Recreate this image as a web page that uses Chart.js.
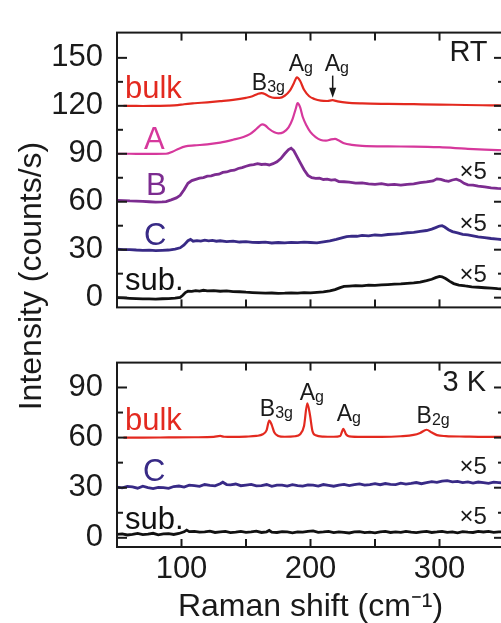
<!DOCTYPE html>
<html>
<head>
<meta charset="utf-8">
<script src="https://cdn.jsdelivr.net/npm/chart.js@4.4.1/dist/chart.umd.min.js"></script>
<style>
   html, body { margin: 0; padding: 0; background: #fff; overflow: hidden; width: 501px; height: 623px; }
   canvas { position: absolute; left: 0; }
   #grafTop { top: 0; }
   #grafBottom { top: 330px; }
   #yTitle {
      position: absolute; left: -172px; top: 260px; width: 400px; height: 32px;
      line-height: 32px; text-align: center; color: #1a1a1a;
      font: 32px 'Liberation Sans', Arial, sans-serif;
      transform: rotate(-90deg);
   }
</style>
</head>
<body>
<canvas id="grafTop" width="510" height="340"></canvas>
<canvas id="grafBottom" width="510" height="293"></canvas>
<div id="yTitle">Intensity (counts/s)</div>
<script>
// Raman shift (cm-1) / intensity (counts/s), offset traces

// --- RT panel ---
const rtBulkX = [55, 60, 70, 80, 90, 97, 102, 110, 120, 130, 140, 150, 155, 159, 162, 165, 168, 172, 176, 180, 184, 187, 189.5, 192, 195, 199, 203, 208, 213, 217, 221, 228, 240, 260, 280, 300, 320, 340, 350];
const rtBulkY = [120.0, 120.0, 119.9, 120.0, 120.1, 120.4, 121.0, 121.6, 122.2, 122.9, 123.7, 125.0, 126.0, 127.4, 128.0, 127.3, 125.8, 125.0, 125.0, 126.3, 129.5, 134.0, 137.8, 135.5, 130.0, 126.0, 124.3, 123.2, 123.0, 123.5, 122.8, 122.0, 121.5, 121.2, 121.0, 120.8, 120.5, 120.3, 120.2];

const rtAX = [50, 60, 70, 80, 88, 93, 98, 103, 110, 120, 130, 140, 148, 153, 157, 160, 162.5, 165, 168, 172, 175, 179, 183, 186, 188.5, 190, 192, 194, 197, 200, 204, 208, 212, 216, 219, 222, 226, 232, 240, 260, 280, 300, 320, 335, 350];
const rtAY = [90.0, 90.0, 89.9, 89.9, 90.0, 91.3, 93.2, 94.6, 95.2, 95.9, 97.0, 98.8, 100.5, 102.3, 104.8, 107.0, 108.4, 107.7, 105.5, 103.4, 102.8, 103.5, 106.5, 111.5, 118.0, 121.7, 119.0, 113.0, 107.5, 103.5, 100.4, 98.6, 98.2, 99.0, 99.3, 98.3, 96.6, 95.6, 95.0, 94.6, 94.5, 94.1, 93.2, 92.6, 92.2];

const rtBX = [50, 55, 60, 65, 70, 75, 80, 85, 88, 92, 96, 99, 102, 105, 108, 111, 114, 117, 120, 123, 126, 129, 132, 135, 138, 141, 144, 147, 150, 153, 156, 159, 162, 165, 168, 171, 174, 177, 180, 183, 185, 187, 189, 192, 195, 198, 201, 204, 207, 210, 213, 216, 219, 222, 226, 230, 235, 240, 245, 250, 255, 260, 265, 270, 275, 280, 285, 290, 295, 298, 301, 304, 307, 310, 313, 316, 319, 322, 326, 330, 335, 340, 345, 350];
const rtBY = [60.9, 60.7, 60.5, 60.4, 60.2, 60.0, 59.8, 59.9, 60.1, 61.2, 62.4, 64.0, 67.5, 71.5, 73.2, 74.0, 74.8, 75.1, 76.0, 76.2, 76.9, 77.2, 78.3, 78.6, 79.4, 79.7, 80.8, 81.3, 82.2, 82.9, 83.2, 83.8, 83.3, 83.5, 83.0, 83.8, 85.0, 87.0, 90.0, 92.6, 93.5, 92.0, 89.0, 84.5, 80.0, 76.5, 75.0, 74.6, 74.8, 73.9, 74.1, 73.5, 73.8, 72.6, 72.5, 72.3, 71.6, 71.8, 71.2, 70.9, 71.3, 70.5, 70.8, 70.4, 70.9, 71.2, 72.0, 72.4, 73.0, 74.3, 74.0, 73.2, 72.8, 73.6, 74.1, 73.2, 71.5, 70.6, 70.4, 69.8, 69.3, 68.7, 68.4, 68.2];

const rtCX = [50, 55, 60, 65, 70, 75, 80, 85, 90, 95, 99, 102, 105, 107, 109, 112, 115, 118, 121, 124, 127, 130, 135, 140, 145, 150, 155, 160, 165, 170, 175, 180, 185, 190, 195, 200, 205, 210, 215, 220, 225, 228, 232, 236, 240, 245, 250, 255, 260, 265, 270, 275, 280, 285, 290, 294, 297, 300, 302, 304, 307, 310, 314, 318, 322, 326, 330, 335, 340, 345, 350];
const rtCY = [30.3, 30.0, 30.1, 29.8, 29.6, 29.7, 29.4, 29.6, 29.8, 30.4, 31.2, 33.0, 35.6, 36.4, 35.3, 35.7, 35.4, 36.0, 35.5, 35.8, 35.3, 35.6, 35.1, 35.4, 34.8, 35.0, 34.6, 34.5, 34.7, 34.2, 34.5, 34.3, 34.6, 34.4, 34.7, 34.5, 34.3, 34.9, 35.5, 36.4, 37.5, 38.2, 38.5, 38.4, 38.9, 38.7, 39.2, 39.0, 39.5, 39.8, 40.1, 40.6, 40.8, 41.4, 42.0, 42.9, 43.8, 44.8, 45.0, 44.2, 42.5, 41.3, 40.5, 39.6, 39.2, 38.6, 38.0, 37.5, 37.0, 36.6, 36.2];

const rtSubX = [50, 55, 60, 65, 70, 75, 80, 85, 90, 95, 99, 101, 103, 105, 108, 111, 114, 117, 120, 125, 130, 135, 140, 145, 150, 155, 160, 165, 170, 175, 180, 185, 190, 195, 200, 205, 210, 215, 219, 223, 226, 230, 235, 240, 245, 250, 255, 260, 265, 270, 275, 280, 285, 290, 294, 297, 300, 302, 305, 308, 311, 315, 320, 325, 330, 335, 340, 345, 350];
const rtSubY = [0.0, -0.2, -0.4, -0.6, -0.8, -0.8, -0.9, -0.7, -0.6, -0.3, 0.2, 1.5, 3.2, 4.0, 3.9, 4.4, 4.1, 4.6, 4.2, 4.4, 4.0, 4.2, 3.8, 3.7, 3.4, 3.2, 3.0, 2.8, 2.9, 2.7, 2.8, 3.0, 2.8, 3.1, 3.0, 3.3, 3.6, 4.2, 5.0, 6.3, 7.0, 7.2, 7.5, 7.4, 7.8, 7.7, 8.0, 8.2, 8.4, 8.6, 8.9, 9.2, 9.7, 10.6, 11.5, 12.5, 13.3, 13.0, 11.8, 10.2, 8.8, 7.9, 7.3, 6.8, 6.5, 6.2, 5.9, 5.6, 5.4];

// --- 3 K panel ---
const lowBulkX = [55, 70, 90, 110, 125, 130, 133, 140, 150, 158, 163, 166, 168, 170, 172, 175, 180, 188, 192, 195, 197.5, 199.5, 201.5, 204, 210, 218, 223, 225.5, 227.5, 230, 240, 255, 270, 280, 285, 290, 294, 298, 305, 320, 335, 350];
const lowBulkY = [60.0, 60.0, 60.1, 60.2, 60.4, 61.0, 60.5, 60.4, 60.6, 61.0, 62.0, 64.5, 70.2, 67.5, 63.0, 61.0, 60.5, 60.8, 62.0, 67.0, 80.5, 74.0, 64.0, 61.4, 60.6, 60.5, 61.0, 65.2, 62.0, 60.7, 60.4, 60.4, 60.8, 61.6, 62.8, 64.7, 63.0, 61.5, 60.9, 60.6, 60.4, 60.4];

const lowCX = [50, 54, 58, 62, 66, 70, 74, 78, 82, 86, 90, 94, 98, 102, 106, 110, 114, 118, 122, 126, 130, 132, 135, 138, 142, 146, 150, 154, 158, 162, 166, 170, 174, 178, 182, 186, 190, 194, 198, 202, 206, 210, 214, 218, 222, 226, 230, 234, 238, 242, 246, 250, 254, 258, 262, 266, 270, 274, 278, 282, 286, 290, 294, 298, 302, 306, 310, 314, 318, 322, 326, 330, 334, 338, 342, 346, 350];
const lowCY = [30.4, 29.9, 30.8, 30.5, 29.7, 30.9, 30.1, 29.5, 30.2, 30.0,
   29.6, 30.7, 31.0, 30.4, 31.5, 31.2, 30.8, 31.9, 31.4, 31.1,
   32.4, 33.3, 31.9, 31.7, 32.2, 31.2, 31.6, 32.0, 31.1, 31.3,
   31.9, 30.8, 31.5, 31.6, 31.0, 31.8, 31.3, 30.9, 31.7, 31.5,
   31.0, 31.9, 31.4, 30.9, 31.6, 32.0, 31.3, 31.8, 32.3, 31.5,
   31.9, 32.4, 31.8, 32.5, 32.0, 31.9, 32.7, 32.2, 32.6, 33.1,
   32.4, 33.0, 33.6, 33.2, 33.9, 34.2, 33.5, 33.8, 33.1, 33.5,
   32.8, 33.4, 33.0, 32.6, 33.3, 33.1, 32.8];

const lowSubX = [50, 54, 58, 62, 66, 70, 74, 78, 82, 86, 90, 94, 98, 102, 104, 106, 110, 114, 118, 122, 126, 130, 134, 138, 142, 146, 150, 154, 158, 162, 166, 168, 170, 174, 178, 182, 186, 190, 194, 198, 202, 206, 210, 214, 218, 222, 226, 230, 234, 238, 242, 246, 250, 254, 258, 262, 266, 270, 274, 278, 282, 286, 290, 294, 298, 302, 306, 310, 314, 318, 322, 326, 330, 334, 338, 342, 346, 350];
const lowSubY = [2.1, 2.4, 1.7, 2.0, 2.6, 1.9, 2.2, 2.7, 1.8, 2.3, 2.5, 2.0, 2.6, 3.6,
   4.6, 3.7,
   3.9, 3.4, 3.5, 4.0, 3.2, 3.6, 3.9, 3.1, 3.4, 3.8, 3.3, 3.5, 4.0, 3.2, 3.6,
   4.4, 3.4,
   3.2, 3.7, 3.5, 3.0, 3.6, 3.4, 3.9, 4.2, 3.3, 3.5, 3.8, 3.1, 3.6, 3.3, 2.9,
   3.5, 3.7, 3.1, 3.4, 3.0, 3.6, 3.8, 3.2, 3.5, 3.3, 3.9, 3.4, 3.1, 3.6, 3.8,
   3.2, 3.5, 3.9, 3.3, 3.6, 3.0, 3.7, 3.4, 3.2, 3.8, 3.5, 3.9, 3.3, 3.6, 3.5];

// tick values
const xTickLabels = [100, 200, 300];
const xTickMarks = [100, 150, 200, 250, 300];
const yTicksTop = [0, 30, 60, 90, 120, 150];
const yMinorTop = [15, 45, 75, 105, 135];
const yTicksBottom = [0, 30, 60, 90];
const yMinorBottom = [15, 45, 75];

const red = "#e3291f";
const pink = "#d6389c";
const purple = "#7c2c90";
const navy = "#382a86";
const black = "#111111";
const ink = "#1a1a1a";
const fontFam = "'Liberation Sans', Arial, sans-serif";

const pts = (xs, ys) => xs.map((x, i) => ({ x: x, y: ys[i] }));

function serie(xs, ys, cor, smooth, width) {
   return {
      data: pts(xs, ys),
      borderColor: cor,
      borderWidth: width || 2.2,
      pointRadius: 0,
      cubicInterpolationMode: smooth ? 'monotone' : 'default',
      tension: 0
   };
}

// frame, inward ticks and text marks
const marksPlugin = {
   id: 'marks',
   afterDatasetsDraw(chart, args, opts) {
      const ctx = chart.ctx;
      const { left, right, top, bottom } = chart.chartArea;
      const sx = chart.scales.x, sy = chart.scales.y;
      const seg = (x1, y1, x2, y2) => { ctx.beginPath(); ctx.moveTo(x1, y1); ctx.lineTo(x2, y2); ctx.stroke(); };
      ctx.save();
      ctx.strokeStyle = ink;
      ctx.lineWidth = 2;
      ctx.strokeRect(left, top, right - left, bottom - top);
      xTickMarks.forEach(v => {
         const p = sx.getPixelForValue(v);
         seg(p, bottom, p, bottom - 8);
         seg(p, top, p, top + 8);
      });
      opts.yMajor.forEach(v => {
         const p = sy.getPixelForValue(v);
         seg(left, p, left + 10, p);
         seg(right, p, right - 10, p);
      });
      opts.yMinor.forEach(v => {
         const p = sy.getPixelForValue(v);
         seg(left, p, left + 6, p);
         seg(right, p, right - 6, p);
      });
      ctx.textAlign = 'left';
      ctx.textBaseline = 'alphabetic';
      opts.labels.forEach(l => {
         const px = sx.getPixelForValue(l.x), py = sy.getPixelForValue(l.y);
         ctx.fillStyle = l.color || ink;
         ctx.font = l.size + 'px ' + fontFam;
         ctx.fillText(l.text, px, py);
         if (l.sub) {
            const w = ctx.measureText(l.text).width;
            ctx.font = Math.round(l.size * 0.7) + 'px ' + fontFam;
            ctx.fillText(l.sub, px + w, py + 2);
         }
      });
      (opts.arrows || []).forEach(a => {
         const px = sx.getPixelForValue(a.x);
         const y1 = sy.getPixelForValue(a.from), y2 = sy.getPixelForValue(a.to);
         ctx.lineWidth = 1.5;
         seg(px, y1, px, y2 - 8);
         ctx.fillStyle = ink;
         ctx.beginPath();
         ctx.moveTo(px - 3.5, y2 - 10);
         ctx.lineTo(px + 3.5, y2 - 10);
         ctx.lineTo(px, y2);
         ctx.closePath();
         ctx.fill();
      });
      ctx.restore();
   }
};

const tickFont = { family: fontFam, size: 31 };

function yAxis(min, max, ticks) {
   return {
      type: 'linear', min: min, max: max,
      afterFit: (s) => { s.width = 117; },
      afterBuildTicks: (s) => { s.ticks = ticks.map(v => ({ value: v })); },
      grid: { display: false, drawTicks: false },
      border: { display: false },
      ticks: { font: tickFont, color: ink, padding: 14 }
   };
}

// RT chart
const grafico1 = document.getElementById('grafTop').getContext('2d');
const chart1 = new Chart(grafico1, {
   type: 'line',
   data: {
      datasets: [
         serie(rtBulkX, rtBulkY, red, true),
         serie(rtAX, rtAY, pink, true),
         serie(rtBX, rtBY, purple, false, 2.8),
         serie(rtCX, rtCY, navy, false, 2.8),
         serie(rtSubX, rtSubY, black, false, 2.8)
      ]
   },
   options: {
      responsive: false,
      animation: false,
      layout: { padding: { top: 15, right: 6, bottom: 15, left: 0 } },
      scales: {
         x: { type: 'linear', min: 50, max: 350, display: false },
         y: yAxis(-6.1, 165.8, yTicksTop)
      },
      plugins: {
         legend: { display: false },
         tooltip: { enabled: false },
         marks: {
            yMajor: yTicksTop, yMinor: yMinorTop,
            labels: [
               { text: 'bulk', x: 56.2, y: 125.1, color: red, size: 31 },
               { text: 'A', x: 70.9, y: 93, color: pink, size: 31 },
               { text: 'B', x: 72.4, y: 64.2, color: purple, size: 31 },
               { text: 'C', x: 70.9, y: 33.2, color: navy, size: 31 },
               { text: 'sub.', x: 56.2, y: 5, color: black, size: 31 },
               { text: 'B', sub: '3g', x: 154.5, y: 130, size: 23 },
               { text: 'A', sub: 'g', x: 183.1, y: 141.7, size: 23 },
               { text: 'A', sub: 'g', x: 211, y: 141.7, size: 23 },
               { text: 'RT', x: 307.7, y: 147.8, size: 29 },
               { text: '×5', x: 315.5, y: 74.2, size: 24 },
               { text: '×5', x: 315.5, y: 41.5, size: 24 },
               { text: '×5', x: 315.5, y: 10, size: 24 }
            ],
            arrows: [{ x: 217.2, from: 138.9, to: 125.1 }]
         }
      }
   },
   plugins: [marksPlugin]
});

// 3 K chart
const grafico2 = document.getElementById('grafBottom').getContext('2d');
const chart2 = new Chart(grafico2, {
   type: 'line',
   data: {
      datasets: [
         serie(lowBulkX, lowBulkY, red, true),
         serie(lowCX, lowCY, navy, false, 2.8),
         serie(lowSubX, lowSubY, black, false, 2.8)
      ]
   },
   options: {
      responsive: false,
      animation: false,
      layout: { padding: { top: 17, right: 6, bottom: 0, left: 0 } },
      scales: {
         x: {
            type: 'linear', min: 50, max: 350,
            afterFit: (s) => { s.height = 76; },
            afterBuildTicks: (s) => { s.ticks = xTickLabels.map(v => ({ value: v })); },
            grid: { display: false, drawTicks: false },
            border: { display: false },
            ticks: { font: tickFont, color: ink, padding: 4, maxRotation: 0 },
            title: {
               display: true, text: 'Raman shift (cm⁻¹)', color: ink,
               font: { family: fontFam, size: 32, lineHeight: 1 },
               padding: { top: 0, bottom: 0 }
            }
         },
         y: yAxis(-5.5, 104.9, yTicksBottom)
      },
      plugins: {
         legend: { display: false },
         tooltip: { enabled: false },
         marks: {
            yMajor: yTicksBottom, yMinor: yMinorBottom,
            labels: [
               { text: 'bulk', x: 56.2, y: 64.6, color: red, size: 31 },
               { text: 'C', x: 70.1, y: 34.2, color: navy, size: 31 },
               { text: 'sub.', x: 56.2, y: 5.5, color: black, size: 31 },
               { text: 'B', sub: '3g', x: 160.7, y: 72.9, size: 23 },
               { text: 'A', sub: 'g', x: 191.6, y: 82.8, size: 23 },
               { text: 'A', sub: 'g', x: 220.3, y: 70.1, size: 23 },
               { text: 'B', sub: '2g', x: 282.2, y: 68.5, size: 23 },
               { text: '3 K', x: 302.3, y: 87.8, size: 29 },
               { text: '×5', x: 315.5, y: 38.1, size: 24 },
               { text: '×5', x: 315.5, y: 8.3, size: 24 }
            ]
         }
      }
   },
   plugins: [marksPlugin]
});
</script>
</body>
</html>
